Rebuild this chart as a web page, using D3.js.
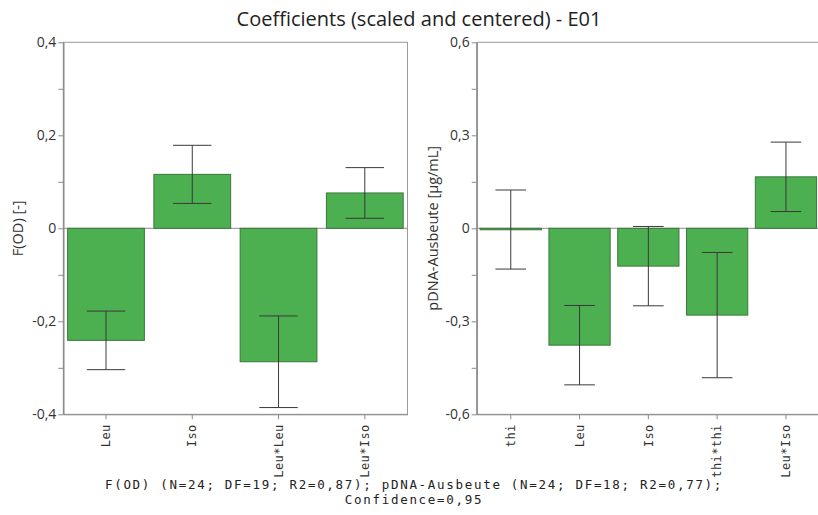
<!DOCTYPE html>
<html>
<head>
<meta charset="utf-8">
<script src="https://cdn.jsdelivr.net/npm/d3@7"></script>
<style>
  html, body { margin: 0; padding: 0; background: #fff; }
  svg { display: block; }
  .ylab { font-family: "Open Sans", sans-serif; font-size: 14px; fill: #333; }
  .xlab { font-family: "DejaVu Sans Mono", monospace; font-size: 12px; fill: #333; letter-spacing: 0.4px; }
</style>
</head>
<body>
<svg id="chart" width="818" height="515"></svg>
<script>
// chart data
const title = "Coefficients (scaled and centered) - E01";
const footer = ["F(OD) (N=24; DF=19; R2=0,87); pDNA-Ausbeute (N=24; DF=18; R2=0,77);", "Confidence=0,95"];

const odTerms = ["Leu", "Iso", "Leu*Leu", "Leu*Iso"];
const odCoef = [-0.241, 0.116, -0.287, 0.076];
const odErr = [0.063, 0.0625, 0.0985, 0.0545];
const odTicks = [-0.4, -0.2, 0, 0.2, 0.4];
const odMinor = [-0.3, -0.1, 0.1, 0.3];

const pdnaTerms = ["thi", "Leu", "Iso", "thi*thi", "Leu*Iso"];
const pdnaCoef = [-0.004, -0.377, -0.122, -0.280, 0.166];
const pdnaErr = [0.1275, 0.128, 0.128, 0.202, 0.112];
const pdnaTicks = [-0.6, -0.3, 0, 0.3, 0.6];
const pdnaMinor = [-0.45, -0.15, 0.15, 0.45];

const svg = d3.select("#chart");
const loc = d3.formatLocale({decimal: ",", thousands: ".", grouping: [3], currency: ["", ""], minus: "-"});
const fmt = loc.format("~g");

const plotTop = 42.3, plotBottom = 414.3;
const fill = "#4caf50", edge = "#3d763d", axisCol = "#8a8a8a";

function panel(terms, coef, err, ticks, minor, x0, x1, label, labelX) {
  const x = d3.scaleBand().domain(terms).range([x0, x1]).paddingInner(0.11).paddingOuter(0.05);
  const y = d3.scaleLinear().domain([ticks[0], ticks[ticks.length - 1]]).range([plotBottom, plotTop]);
  const g = svg.append("g");

  // frame
  g.append("rect").attr("x", x0).attr("y", plotTop).attr("width", x1 - x0).attr("height", plotBottom - plotTop)
    .attr("fill", "none").attr("stroke", "#9a9a9a").attr("stroke-width", 1);

  // zero line
  g.append("line").attr("x1", x0).attr("x2", x1).attr("y1", y(0)).attr("y2", y(0))
    .attr("stroke", axisCol);

  // bars
  g.selectAll("rect.bar").data(terms).enter().append("rect").attr("class", "bar")
    .attr("x", d => x(d))
    .attr("width", x.bandwidth())
    .attr("y", (d, i) => y(Math.max(0, coef[i])))
    .attr("height", (d, i) => Math.max(1.5, Math.abs(y(coef[i]) - y(0))))
    .attr("fill", fill).attr("stroke", edge).attr("stroke-width", 1);

  // error bars
  const cap = x.bandwidth() / 4;
  const eb = g.selectAll("g.err").data(terms).enter().append("g").attr("class", "err")
    .attr("stroke", "#3a3a3a").attr("stroke-width", 1);
  eb.append("line")
    .attr("x1", d => x(d) + x.bandwidth() / 2).attr("x2", d => x(d) + x.bandwidth() / 2)
    .attr("y1", (d, i) => y(coef[i] + err[i])).attr("y2", (d, i) => y(coef[i] - err[i]));
  [1, -1].forEach(s => {
    eb.append("line")
      .attr("x1", d => x(d) + x.bandwidth() / 2 - cap).attr("x2", d => x(d) + x.bandwidth() / 2 + cap)
      .attr("y1", (d, i) => y(coef[i] + s * err[i])).attr("y2", (d, i) => y(coef[i] + s * err[i]));
  });

  // y axis
  const ya = g.append("g").attr("transform", `translate(${x0},0)`)
    .call(d3.axisLeft(y).tickValues(ticks).tickFormat(fmt).tickSize(5).tickSizeOuter(0));
  const ym = g.append("g").attr("transform", `translate(${x0},0)`)
    .call(d3.axisLeft(y).tickValues(minor).tickFormat("").tickSize(5).tickSizeOuter(0));
  [ya, ym].forEach(a => {
    a.select(".domain").attr("stroke", axisCol);
    a.selectAll(".tick line").attr("stroke", axisCol);
  });
  ya.selectAll(".tick text").attr("class", "ylab").attr("x", -7).attr("fill", "#333");

  // x axis
  const xa = g.append("g").attr("transform", `translate(0,${plotBottom})`)
    .call(d3.axisBottom(x).tickSize(5).tickSizeOuter(0));
  xa.select(".domain").attr("stroke", axisCol);
  xa.selectAll(".tick line").attr("stroke", axisCol);
  xa.selectAll(".tick text").attr("class", "xlab")
    .attr("transform", "rotate(-90)")
    .attr("x", -10).attr("y", 0).attr("dy", "0.35em")
    .style("text-anchor", "end");

  // axis title
  svg.append("text").attr("class", "ylab")
    .attr("transform", `translate(${labelX},${(plotTop + plotBottom) / 2}) rotate(-90)`)
    .attr("text-anchor", "middle").style("font-size", "14.5px")
    .text(label);
}

panel(odTerms, odCoef, odErr, odTicks, odMinor, 63.3, 407.5, "F(OD) [-]", 23);
panel(pdnaTerms, pdnaCoef, pdnaErr, pdnaTicks, pdnaMinor, 476.7, 820, "pDNA-Ausbeute [µg/mL]", 438);

svg.append("text").attr("x", 419).attr("y", 26)
  .attr("text-anchor", "middle")
  .style("font-family", "'Open Sans', sans-serif").style("font-size", "20px").attr("fill", "#222")
  .text(title);

svg.selectAll("text.foot").data(footer).enter().append("text").attr("class", "foot")
  .attr("x", 414).attr("y", (d, i) => 489 + i * 15)
  .attr("text-anchor", "middle")
  .style("font-family", "'DejaVu Sans Mono', monospace").style("font-size", "12.5px")
  .style("letter-spacing", "1.7px").attr("fill", "#222")
  .text(d => d);
</script>
</body>
</html>
